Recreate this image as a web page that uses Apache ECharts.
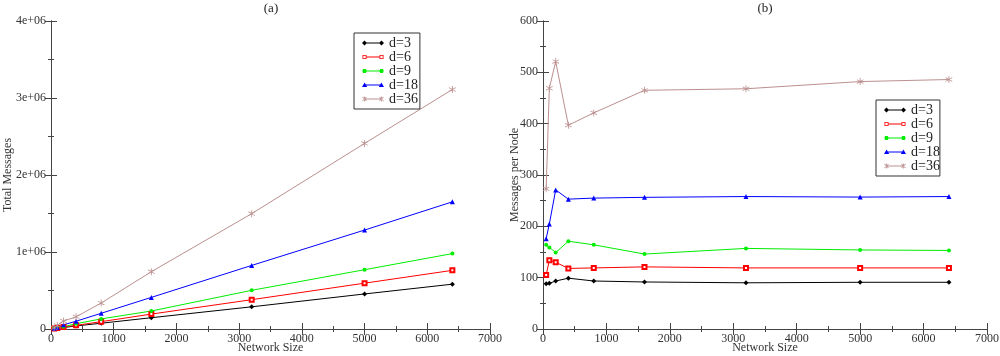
<!DOCTYPE html>
<html>
<head>
<meta charset="utf-8">
<script src="https://cdn.jsdelivr.net/npm/echarts@6/dist/echarts.min.js"></script>
<style>html,body{margin:0;padding:0;background:#fff}#c{width:1000px;height:356px}</style>
</head>
<body>
<div id="c"></div>
<script>
var networkSizes = [50, 100, 200, 400, 800, 1600, 3200, 5000, 6400];
var seriesNames = ['d=3', 'd=6', 'd=9', 'd=18', 'd=36'];

// (a) Total messages
var totalD3  = [4400, 8900, 18700, 39600, 74800, 146600, 288000, 455000, 582000];
var totalD6  = [5250, 13400, 26000, 47200, 95200, 193600, 380800, 595000, 761600];
var totalD9  = [8200, 15900, 29800, 68400, 131200, 233600, 502400, 770000, 979200];
var totalD18 = [8800, 20450, 54200, 101200, 204000, 410400, 825600, 1285000, 1651200];
var totalD36 = [13650, 46900, 104200, 158800, 336800, 744000, 1497600, 2410000, 3110400];

// (b) Messages per node
var perNodeD3  = [88, 89, 93.5, 99, 93.5, 91.6, 90, 91, 91];
var perNodeD6  = [105, 134, 130, 118, 119, 121, 119, 119, 119];
var perNodeD9  = [164, 159, 149, 171, 164, 146, 157, 154, 153];
var perNodeD18 = [176, 204.5, 271, 253, 255, 256.5, 258, 257, 258];
var perNodeD36 = [273, 469, 521, 397, 421, 465, 468, 482, 486];

var xTicks = [0, 1000, 2000, 3000, 4000, 5000, 6000, 7000];
var leftYTicks = ['0', '1e+06', '2e+06', '3e+06', '4e+06'];
var rightYTicks = [0, 100, 200, 300, 400, 500, 600];

var FONT = 'Liberation Serif';
var colors = ['#000000', '#ff0000', '#00ee00', '#0000ff', '#bc8f8f'];
var starPath = 'path://M4.5,0 L5.5,0 L5.5,3.8 L8.8,1.9 L9.3,2.8 L6,4.7 L6,5.3 L9.3,7.2 L8.8,8.1 L5.5,6.2 L5.5,10 L4.5,10 L4.5,6.2 L1.2,8.1 L0.7,7.2 L4,5.3 L4,4.7 L0.7,2.8 L1.2,1.9 L4.5,3.8 Z';
var symbols = ['diamond', 'emptyRect', 'circle', 'triangle', starPath];
var symbolSizes = [5, 4, 4, 5, 7];

// legend icons: a line with a marker at each end (box 22 x 6)
function lineBar(x0, x1) { return 'M' + x0 + ',2.6 L' + x1 + ',2.6 L' + x1 + ',3.4 L' + x0 + ',3.4 Z '; }
function diamondAt(cx) { return 'M' + (cx - 2.5) + ',3 L' + cx + ',0.5 L' + (cx + 2.5) + ',3 L' + cx + ',5.5 Z '; }
function hollowSqAt(cx) {
  return 'M' + (cx - 2) + ',1 L' + (cx + 2) + ',1 L' + (cx + 2) + ',5 L' + (cx - 2) + ',5 Z ' +
         'M' + (cx - 1.2) + ',1.8 L' + (cx - 1.2) + ',4.2 L' + (cx + 1.2) + ',4.2 L' + (cx + 1.2) + ',1.8 Z ';
}
function circleAt(cx) {
  return 'M' + (cx - 2) + ',2.2 L' + (cx - 1.2) + ',1 L' + (cx + 1.2) + ',1 L' + (cx + 2) + ',2.2 L' +
         (cx + 2) + ',3.8 L' + (cx + 1.2) + ',5 L' + (cx - 1.2) + ',5 L' + (cx - 2) + ',3.8 Z ';
}
function triAt(cx) { return 'M' + cx + ',0.6 L' + (cx + 2.6) + ',5 L' + (cx - 2.6) + ',5 Z '; }
function starAt(cx) {
  return 'M' + (cx - 0.4) + ',0.5 L' + (cx + 0.4) + ',0.5 L' + (cx + 0.4) + ',5.5 L' + (cx - 0.4) + ',5.5 Z ' +
         'M' + (cx - 2.3) + ',1.2 L' + (cx - 1.7) + ',0.7 L' + (cx + 2.3) + ',4.8 L' + (cx + 1.7) + ',5.3 Z ' +
         'M' + (cx + 2.3) + ',1.2 L' + (cx + 1.7) + ',0.7 L' + (cx - 2.3) + ',4.8 L' + (cx - 1.7) + ',5.3 Z ';
}
var frame = 'M0,0 L0,0.01 L0.01,0 Z M22,6 L22,5.99 L21.99,6 Z ';
var legendIcons = [
  'path://' + frame + lineBar(2.5, 19.5) + diamondAt(2.5) + diamondAt(19.5),
  'path://' + frame + lineBar(4.5, 17.5) + hollowSqAt(2.5) + hollowSqAt(19.5),
  'path://' + frame + lineBar(2.5, 19.5) + circleAt(2.5) + circleAt(19.5),
  'path://' + frame + lineBar(2.5, 19.5) + triAt(2.6) + triAt(19.4),
  'path://' + frame + lineBar(2.5, 19.5) + starAt(2.5) + starAt(19.5)
];

function pairs(ys) { return networkSizes.map(function (x, i) { return [x, ys[i]]; }); }

var totals = [totalD3, totalD6, totalD9, totalD18, totalD36];
var perNode = [perNodeD3, perNodeD6, perNodeD9, perNodeD18, perNodeD36];

var axisLine = { show: true, lineStyle: { color: '#444', width: 1 } };
function xAxisDef(grid, pos, showLabel, name) {
  return {
    type: 'value', gridIndex: grid, position: pos, min: 0, max: 7000, interval: 1000,
    axisLine: axisLine,
    axisTick: { show: true, inside: true, length: 6, lineStyle: { color: '#444' } },
    minorTick: { show: true, splitNumber: 2, length: 3, lineStyle: { color: '#444' } },
    splitLine: { show: false },
    axisLabel: { show: showLabel, fontFamily: FONT, fontSize: 12, color: '#333', margin: 4,
      formatter: function (v) { return xTicks.indexOf(v) >= 0 ? String(v) : ''; } },
    name: name || '', nameLocation: 'middle', nameGap: 13, nameMoveOverlap: false,
    nameTextStyle: { fontFamily: FONT, fontSize: 12, color: '#333', verticalAlign: 'top' }
  };
}
function yAxisDef(grid, pos, showLabel, max, interval, fmt, name, gap) {
  return {
    type: 'value', gridIndex: grid, position: pos, min: 0, max: max, interval: interval,
    axisLine: axisLine,
    axisTick: { show: true, inside: true, length: 6, lineStyle: { color: '#444' } },
    minorTick: { show: true, splitNumber: 2, length: 3, lineStyle: { color: '#444' } },
    splitLine: { show: false },
    axisLabel: { show: showLabel, fontFamily: FONT, fontSize: 12, color: '#333', margin: 5, formatter: fmt },
    name: name || '', nameLocation: 'middle', nameGap: gap || 30, nameRotate: 90, nameMoveOverlap: false,
    nameTextStyle: { fontFamily: FONT, fontSize: 12, color: '#333' }
  };
}

var series = [];
seriesNames.forEach(function (n, i) {
  series.push({ name: n, type: 'line', xAxisIndex: 0, yAxisIndex: 0, data: pairs(totals[i]),
    symbol: symbols[i], symbolSize: symbolSizes[i], showAllSymbol: true,
    itemStyle: { color: colors[i] }, lineStyle: { color: colors[i], width: 1 }, animation: false });
  series.push({ name: n, type: 'line', xAxisIndex: 2, yAxisIndex: 2, data: pairs(perNode[i]),
    symbol: symbols[i], symbolSize: symbolSizes[i], showAllSymbol: true,
    itemStyle: { color: colors[i] }, lineStyle: { color: colors[i], width: 1 }, animation: false });
});

function legendDef(left, top, rightPad) {
  return {
    data: seriesNames.map(function (n, i) { return { name: n, icon: legendIcons[i] }; }),
    left: left, top: top, orient: 'vertical',
    itemWidth: 22, itemHeight: 6, itemGap: 0, itemTextGap: 4,
    borderColor: '#333', borderWidth: 1, padding: [3, rightPad, 3, 8],
    textStyle: { fontFamily: FONT, fontSize: 14, lineHeight: 13, color: '#222' },
    selectedMode: false
  };
}

var chart = echarts.init(document.getElementById('c'), null, { renderer: 'canvas' });
chart.setOption({
  backgroundColor: '#fff',
  animation: false,
  title: [
    { text: '(a)', left: 271, top: 2, padding: 0, textAlign: 'center', textStyle: { fontFamily: FONT, fontSize: 13, fontWeight: 'normal', color: '#222' } },
    { text: '(b)', left: 765, top: 2, padding: 0, textAlign: 'center', textStyle: { fontFamily: FONT, fontSize: 13, fontWeight: 'normal', color: '#222' } }
  ],
  grid: [
    { left: 51, top: 21, width: 439, height: 308, outerBoundsMode: 'none', containLabel: false },
    { left: 543, top: 21, width: 444, height: 308, outerBoundsMode: 'none', containLabel: false }
  ],
  xAxis: [
    xAxisDef(0, 'bottom', true, 'Network Size'),
    xAxisDef(0, 'top', false),
    xAxisDef(1, 'bottom', true, 'Network Size'),
    xAxisDef(1, 'top', false)
  ],
  yAxis: [
    yAxisDef(0, 'left', true, 4000000, 1000000, function (v) { return leftYTicks[Math.round(v / 1000000)]; }, 'Total Messages', 37),
    yAxisDef(0, 'right', false, 4000000, 1000000),
    yAxisDef(1, 'left', true, 600, 100, function (v) { return rightYTicks.indexOf(v) >= 0 ? String(v) : ''; }, 'Messages per Node', 22),
    yAxisDef(1, 'right', false, 600, 100)
  ],
  legend: [legendDef(354, 33, 2), legendDef(876, 100, 0)],
  series: series
});
</script>
</body>
</html>
